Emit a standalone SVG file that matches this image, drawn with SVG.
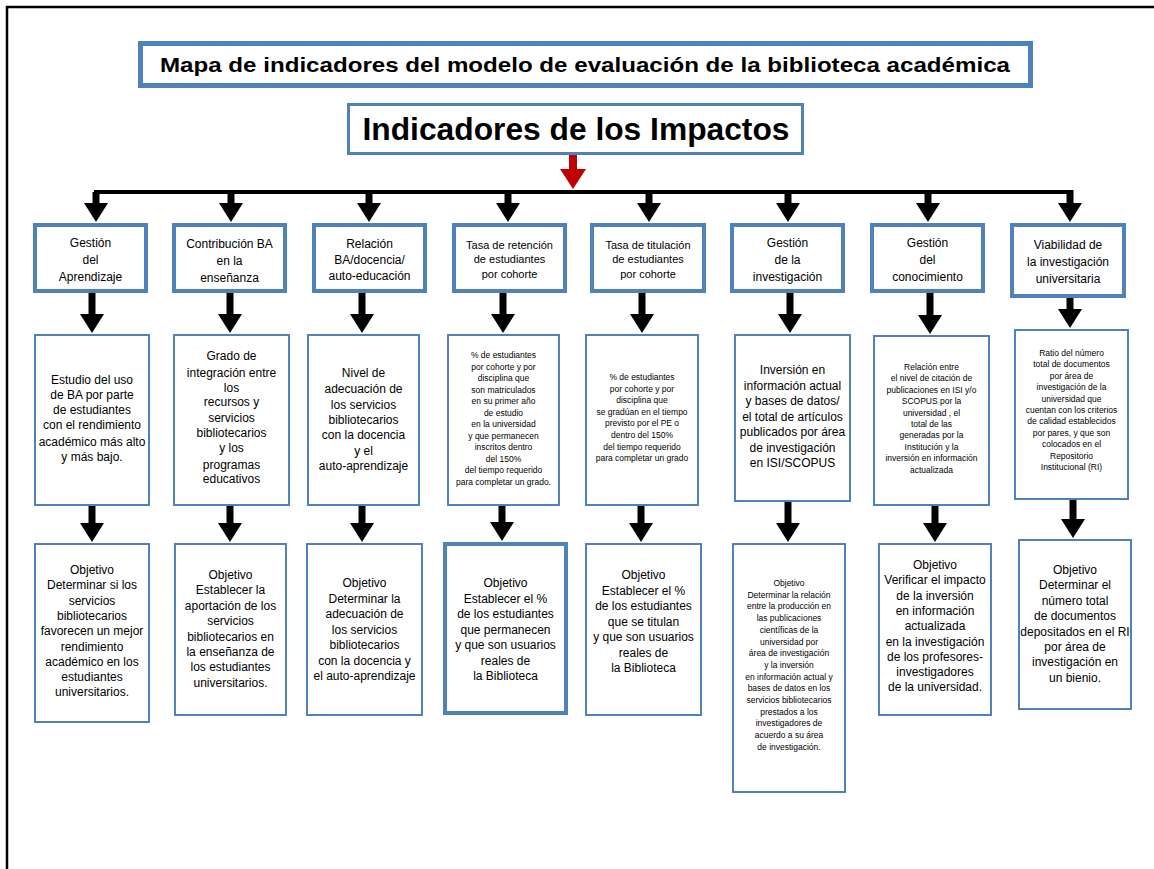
<svg xmlns="http://www.w3.org/2000/svg" width="1154" height="869" viewBox="0 0 1154 869">
  <style>
    text { font-family: "Liberation Sans", Arial, sans-serif; fill: #000; text-anchor: middle; }
    .frame { stroke: #000; stroke-width: 2.5; fill: none; }
    .title-box { fill: #fff; stroke: #4f81bd; stroke-width: 5; }
    .main-box { fill: #fff; stroke: #4f81bd; stroke-width: 3; }
    .hdr { fill: #fff; stroke: #4f81bd; stroke-width: 4; }
    .box { fill: #fff; stroke: #4f81bd; stroke-width: 2; }
    .box-thick { fill: #fff; stroke: #4f81bd; stroke-width: 4; }
    .t-title { font-size: 21px; font-weight: bold; }
    .t-main { font-size: 31px; font-weight: bold; }
    .t { font-size: 12px; }
    .th { font-size: 11px; }
    .s { font-size: 8.5px; }
    .bar { stroke: #000; stroke-width: 4; fill: none; }
    .arr { stroke: #000; stroke-width: 7; fill: none; marker-end: url(#ah); }
    .arr-red { stroke: #c00000; stroke-width: 8; fill: none; marker-end: url(#ahr); }
  </style>
  <defs>
    <marker id="ah" markerUnits="userSpaceOnUse" markerWidth="19" markerHeight="24" refX="0" refY="12" orient="auto">
      <path d="M0,0 L19,12 L0,24 Z" fill="#000"/>
    </marker>
    <marker id="ahr" markerUnits="userSpaceOnUse" markerWidth="20" markerHeight="26" refX="0" refY="13" orient="auto">
      <path d="M0,0 L20,13 L0,26 Z" fill="#c00000"/>
    </marker>
  </defs>

  <rect x="0" y="0" width="1154" height="869" fill="#fff"/>
  <!-- page frame -->
  <path class="frame" d="M7,869 L7,7 L1154,7"/>

  <!-- title -->
  <g id="title">
    <rect class="title-box" x="140.5" y="43.5" width="890" height="42"/>
    <text class="t-title" x="585" y="72" textLength="850" lengthAdjust="spacingAndGlyphs">Mapa de indicadores del modelo de evaluación de la biblioteca académica</text>
  </g>
  <g id="impactos">
    <rect class="main-box" x="348.5" y="104.5" width="454" height="49"/>
    <text class="t-main" x="576" y="140" textLength="427" lengthAdjust="spacingAndGlyphs">Indicadores de los Impactos</text>
  </g>

  <!-- connectors -->
  <g id="connectors">
    <line class="arr-red" x1="573" y1="155" x2="573" y2="169"/>
    <line class="bar" x1="94" y1="192" x2="1072" y2="192"/>
    <!-- into the header row -->
    <line class="arr" x1="96" y1="192" x2="96" y2="203"/>
    <line class="arr" x1="231" y1="192" x2="231" y2="203"/>
    <line class="arr" x1="369" y1="192" x2="369" y2="203"/>
    <line class="arr" x1="508" y1="192" x2="508" y2="203"/>
    <line class="arr" x1="649" y1="192" x2="649" y2="203"/>
    <line class="arr" x1="788" y1="192" x2="788" y2="203"/>
    <line class="arr" x1="928" y1="192" x2="928" y2="203"/>
    <line class="arr" x1="1070" y1="190" x2="1070" y2="203"/>
    <!-- header to indicator -->
    <line class="arr" x1="92" y1="293" x2="92" y2="314"/>
    <line class="arr" x1="230" y1="293" x2="230" y2="314"/>
    <line class="arr" x1="362" y1="293" x2="362" y2="314"/>
    <line class="arr" x1="503" y1="293" x2="503" y2="314"/>
    <line class="arr" x1="642" y1="293" x2="642" y2="314"/>
    <line class="arr" x1="790" y1="293" x2="790" y2="314"/>
    <line class="arr" x1="930" y1="293" x2="930" y2="315"/>
    <line class="arr" x1="1070" y1="298" x2="1070" y2="309"/>
    <!-- indicator to objective -->
    <line class="arr" x1="92" y1="506" x2="92" y2="523"/>
    <line class="arr" x1="230" y1="506" x2="230" y2="523"/>
    <line class="arr" x1="362" y1="506" x2="362" y2="523"/>
    <line class="arr" x1="502" y1="506" x2="502" y2="522"/>
    <line class="arr" x1="641" y1="506" x2="641" y2="523"/>
    <line class="arr" x1="788" y1="502" x2="788" y2="523"/>
    <line class="arr" x1="935" y1="506" x2="935" y2="523"/>
    <line class="arr" x1="1073" y1="500" x2="1073" y2="519"/>
  </g>

  <!-- header row -->
  <g id="h1">
    <rect class="hdr" x="35" y="225" width="111" height="66"/>
    <text class="t"><tspan x="90.5" y="247">Gestión</tspan><tspan x="90.5" y="264">del</tspan><tspan x="90.5" y="281">Aprendizaje</tspan></text>
  </g>
  <g id="h2">
    <rect class="hdr" x="174" y="225" width="111" height="66"/>
    <text class="t"><tspan x="229.5" y="248">Contribución  BA</tspan><tspan x="229.5" y="265">en la</tspan><tspan x="229.5" y="282">enseñanza</tspan></text>
  </g>
  <g id="h3">
    <rect class="hdr" x="314" y="225" width="111" height="66"/>
    <text class="t"><tspan x="369.5" y="248">Relación</tspan><tspan x="369.5" y="264">BA/docencia/</tspan><tspan x="369.5" y="280">auto-educación</tspan></text>
  </g>
  <g id="h4">
    <rect class="hdr" x="454" y="225" width="111" height="66"/>
    <text class="th"><tspan x="509.5" y="249">Tasa de retención</tspan><tspan x="509.5" y="263">de estudiantes</tspan><tspan x="509.5" y="278">por cohorte</tspan></text>
  </g>
  <g id="h5">
    <rect class="hdr" x="592" y="225" width="112" height="66"/>
    <text class="th"><tspan x="648" y="249">Tasa de titulación</tspan><tspan x="648" y="263">de estudiantes</tspan><tspan x="648" y="278">por cohorte</tspan></text>
  </g>
  <g id="h6">
    <rect class="hdr" x="732" y="225" width="111" height="66"/>
    <text class="t"><tspan x="787.5" y="247">Gestión</tspan><tspan x="787.5" y="264">de la</tspan><tspan x="787.5" y="281">investigación</tspan></text>
  </g>
  <g id="h7">
    <rect class="hdr" x="872" y="225" width="111" height="66"/>
    <text class="t"><tspan x="927.5" y="247">Gestión</tspan><tspan x="927.5" y="264">del</tspan><tspan x="927.5" y="281">conocimiento</tspan></text>
  </g>
  <g id="h8">
    <rect class="hdr" x="1012" y="225" width="112" height="71"/>
    <text class="t"><tspan x="1068" y="249">Viabilidad de</tspan><tspan x="1068" y="266">la investigación</tspan><tspan x="1068" y="283">universitaria</tspan></text>
  </g>

  <!-- indicator row -->
  <g id="m1">
    <rect class="box" x="35" y="335" width="114" height="170"/>
    <text class="t"><tspan x="92" y="384">Estudio del uso</tspan><tspan x="92" y="399">de BA por parte</tspan><tspan x="92" y="414">de estudiantes</tspan><tspan x="92" y="429">con el rendimiento</tspan><tspan x="92" y="446">académico más alto</tspan><tspan x="92" y="461">y más bajo.</tspan></text>
  </g>
  <g id="m2">
    <rect class="box" x="174" y="335" width="115" height="170"/>
    <text class="t"><tspan x="231.5" y="360">Grado de</tspan><tspan x="231.5" y="377">integración entre</tspan><tspan x="231.5" y="392">los</tspan><tspan x="231.5" y="406">recursos y</tspan><tspan x="231.5" y="422">servicios</tspan><tspan x="231.5" y="437">bibliotecarios</tspan><tspan x="231.5" y="452">y los</tspan><tspan x="231.5" y="469">programas</tspan><tspan x="231.5" y="483">educativos</tspan></text>
  </g>
  <g id="m3">
    <rect class="box" x="308" y="335" width="111" height="170"/>
    <text class="t"><tspan x="363.5" y="377">Nivel de</tspan><tspan x="363.5" y="393">adecuación  de</tspan><tspan x="363.5" y="409">los servicios</tspan><tspan x="363.5" y="424">bibliotecarios</tspan><tspan x="363.5" y="439">con la docencia</tspan><tspan x="363.5" y="455">y el</tspan><tspan x="363.5" y="470">auto-aprendizaje</tspan></text>
  </g>
  <g id="m4">
    <rect class="box" x="448" y="335" width="111" height="170"/>
    <text class="s"><tspan x="503.5" y="358">% de estudiantes</tspan><tspan x="503.5" y="369.5">por cohorte y por</tspan><tspan x="503.5" y="381">disciplina que</tspan><tspan x="503.5" y="392.5">son matriculados</tspan><tspan x="503.5" y="404">en su primer año</tspan><tspan x="503.5" y="415.5">de estudio</tspan><tspan x="503.5" y="427">en la universidad</tspan><tspan x="503.5" y="438.5">y que permanecen</tspan><tspan x="503.5" y="450">inscritos dentro</tspan><tspan x="503.5" y="461.5">del 150%</tspan><tspan x="503.5" y="473">del tiempo requerido</tspan><tspan x="503.5" y="484.5">para completar un grado.</tspan></text>
  </g>
  <g id="m5">
    <rect class="box" x="586" y="335" width="112" height="170"/>
    <text class="s"><tspan x="642" y="380">% de estudiantes</tspan><tspan x="642" y="391.6">por cohorte y por</tspan><tspan x="642" y="403.2">disciplina que</tspan><tspan x="642" y="414.8">se gradúan en el tiempo</tspan><tspan x="642" y="426.4">previsto por el PE o</tspan><tspan x="642" y="438">dentro del 150%</tspan><tspan x="642" y="449.6">del tiempo requerido</tspan><tspan x="642" y="461.2">para completar un grado</tspan></text>
  </g>
  <g id="m6">
    <rect class="box" x="735" y="335" width="115" height="166"/>
    <text class="t"><tspan x="792.5" y="374">Inversión en</tspan><tspan x="792.5" y="389.5">información actual</tspan><tspan x="792.5" y="405">y bases de datos/</tspan><tspan x="792.5" y="420.5">el total de artículos</tspan><tspan x="792.5" y="436">publicados por área</tspan><tspan x="792.5" y="451.5">de investigación</tspan><tspan x="792.5" y="467">en ISI/SCOPUS</tspan></text>
  </g>
  <g id="m7">
    <rect class="box" x="874" y="336" width="115" height="169"/>
    <text class="s"><tspan x="931.5" y="370">Relación entre</tspan><tspan x="931.5" y="381.4">el nivel de citación de</tspan><tspan x="931.5" y="392.8">publicaciones en ISI y/o</tspan><tspan x="931.5" y="404.2">SCOPUS por la</tspan><tspan x="931.5" y="415.6">universidad , el</tspan><tspan x="931.5" y="427">total de las</tspan><tspan x="931.5" y="438.4">generadas por la</tspan><tspan x="931.5" y="449.8">Institución y la</tspan><tspan x="931.5" y="461.2">inversión en información</tspan><tspan x="931.5" y="472.6">actualizada</tspan></text>
  </g>
  <g id="m8">
    <rect class="box" x="1015" y="330" width="113" height="169"/>
    <text class="s"><tspan x="1071.5" y="356">Ratio del número</tspan><tspan x="1071.5" y="367.4">total de documentos</tspan><tspan x="1071.5" y="378.8">por área de</tspan><tspan x="1071.5" y="390.2">investigación de la</tspan><tspan x="1071.5" y="401.6">universidad que</tspan><tspan x="1071.5" y="413">cuentan con los criterios</tspan><tspan x="1071.5" y="424.4">de calidad establecidos</tspan><tspan x="1071.5" y="435.8">por pares, y que son</tspan><tspan x="1071.5" y="447.2">colocados en el</tspan><tspan x="1071.5" y="458.6">Repositorio</tspan><tspan x="1071.5" y="470">Institucional (RI)</tspan></text>
  </g>

  <!-- objective row -->
  <g id="b1">
    <rect class="box" x="35" y="544" width="114" height="178"/>
    <text class="t"><tspan x="92" y="574">Objetivo</tspan><tspan x="92" y="589.3">Determinar si los</tspan><tspan x="92" y="604.6">servicios</tspan><tspan x="92" y="619.9">bibliotecarios</tspan><tspan x="92" y="635.2">favorecen un mejor</tspan><tspan x="92" y="650.5">rendimiento</tspan><tspan x="92" y="665.8">académico en los</tspan><tspan x="92" y="681.1">estudiantes</tspan><tspan x="92" y="696.4">universitarios.</tspan></text>
  </g>
  <g id="b2">
    <rect class="box" x="175" y="544" width="111" height="171"/>
    <text class="t"><tspan x="230.5" y="579">Objetivo</tspan><tspan x="230.5" y="594.4">Establecer la</tspan><tspan x="230.5" y="609.8">aportación de los</tspan><tspan x="230.5" y="625.2">servicios</tspan><tspan x="230.5" y="640.6">bibliotecarios en</tspan><tspan x="230.5" y="656">la enseñanza de</tspan><tspan x="230.5" y="671.4">los estudiantes</tspan><tspan x="230.5" y="686.8">universitarios.</tspan></text>
  </g>
  <g id="b3">
    <rect class="box" x="307" y="544" width="115" height="171"/>
    <text class="t"><tspan x="364.5" y="587">Objetivo</tspan><tspan x="364.5" y="602.5">Determinar la</tspan><tspan x="364.5" y="618">adecuación de</tspan><tspan x="364.5" y="633.5">los servicios</tspan><tspan x="364.5" y="649">bibliotecarios</tspan><tspan x="364.5" y="664.5">con la docencia y</tspan><tspan x="364.5" y="680">el auto-aprendizaje</tspan></text>
  </g>
  <g id="b4">
    <rect class="box-thick" x="445" y="544" width="121" height="169"/>
    <text class="t"><tspan x="505.5" y="587">Objetivo</tspan><tspan x="505.5" y="602.5">Establecer el %</tspan><tspan x="505.5" y="618">de los estudiantes</tspan><tspan x="505.5" y="633.5">que permanecen</tspan><tspan x="505.5" y="649">y que son usuarios</tspan><tspan x="505.5" y="664.5">reales de</tspan><tspan x="505.5" y="680">la Biblioteca</tspan></text>
  </g>
  <g id="b5">
    <rect class="box" x="586" y="544" width="115" height="171"/>
    <text class="t"><tspan x="643.5" y="579">Objetivo</tspan><tspan x="643.5" y="594.5">Establecer el %</tspan><tspan x="643.5" y="610">de los estudiantes</tspan><tspan x="643.5" y="625.5">que se titulan</tspan><tspan x="643.5" y="641">y que son usuarios</tspan><tspan x="643.5" y="656.5">reales de</tspan><tspan x="643.5" y="672">la Biblioteca</tspan></text>
  </g>
  <g id="b6">
    <rect class="box" x="733" y="544" width="112" height="248"/>
    <text class="s"><tspan x="789" y="586">Objetivo</tspan><tspan x="789" y="597.7">Determinar la relación</tspan><tspan x="789" y="609.4">entre la producción en</tspan><tspan x="789" y="621.1">las publicaciones</tspan><tspan x="789" y="632.8">científicas de la</tspan><tspan x="789" y="644.5">universidad por</tspan><tspan x="789" y="656.2">área de investigación</tspan><tspan x="789" y="667.9">y la inversión</tspan><tspan x="789" y="679.6">en información actual y</tspan><tspan x="789" y="691.3">bases de datos en los</tspan><tspan x="789" y="703">servicios bibliotecarios</tspan><tspan x="789" y="714.7">prestados a los</tspan><tspan x="789" y="726.4">investigadores de</tspan><tspan x="789" y="738.1">acuerdo a su área</tspan><tspan x="789" y="749.8">de investigación.</tspan></text>
  </g>
  <g id="b7">
    <rect class="box" x="879" y="544" width="112" height="171"/>
    <text class="t"><tspan x="935" y="569">Objetivo</tspan><tspan x="935" y="584.3">Verificar el impacto</tspan><tspan x="935" y="599.6">de la inversión</tspan><tspan x="935" y="614.9">en información</tspan><tspan x="935" y="630.2">actualizada</tspan><tspan x="935" y="645.5">en la investigación</tspan><tspan x="935" y="660.8">de los profesores-</tspan><tspan x="935" y="676.1">investigadores</tspan><tspan x="935" y="691.4">de la universidad.</tspan></text>
  </g>
  <g id="b8">
    <rect class="box" x="1019" y="540" width="112" height="169"/>
    <text class="t"><tspan x="1075" y="574">Objetivo</tspan><tspan x="1075" y="589.4">Determinar el</tspan><tspan x="1075" y="604.8">número total</tspan><tspan x="1075" y="620.2">de documentos</tspan><tspan x="1075" y="635.6">depositados en el RI</tspan><tspan x="1075" y="651">por área de</tspan><tspan x="1075" y="666.4">investigación en</tspan><tspan x="1075" y="681.8">un bienio.</tspan></text>
  </g>
</svg>
